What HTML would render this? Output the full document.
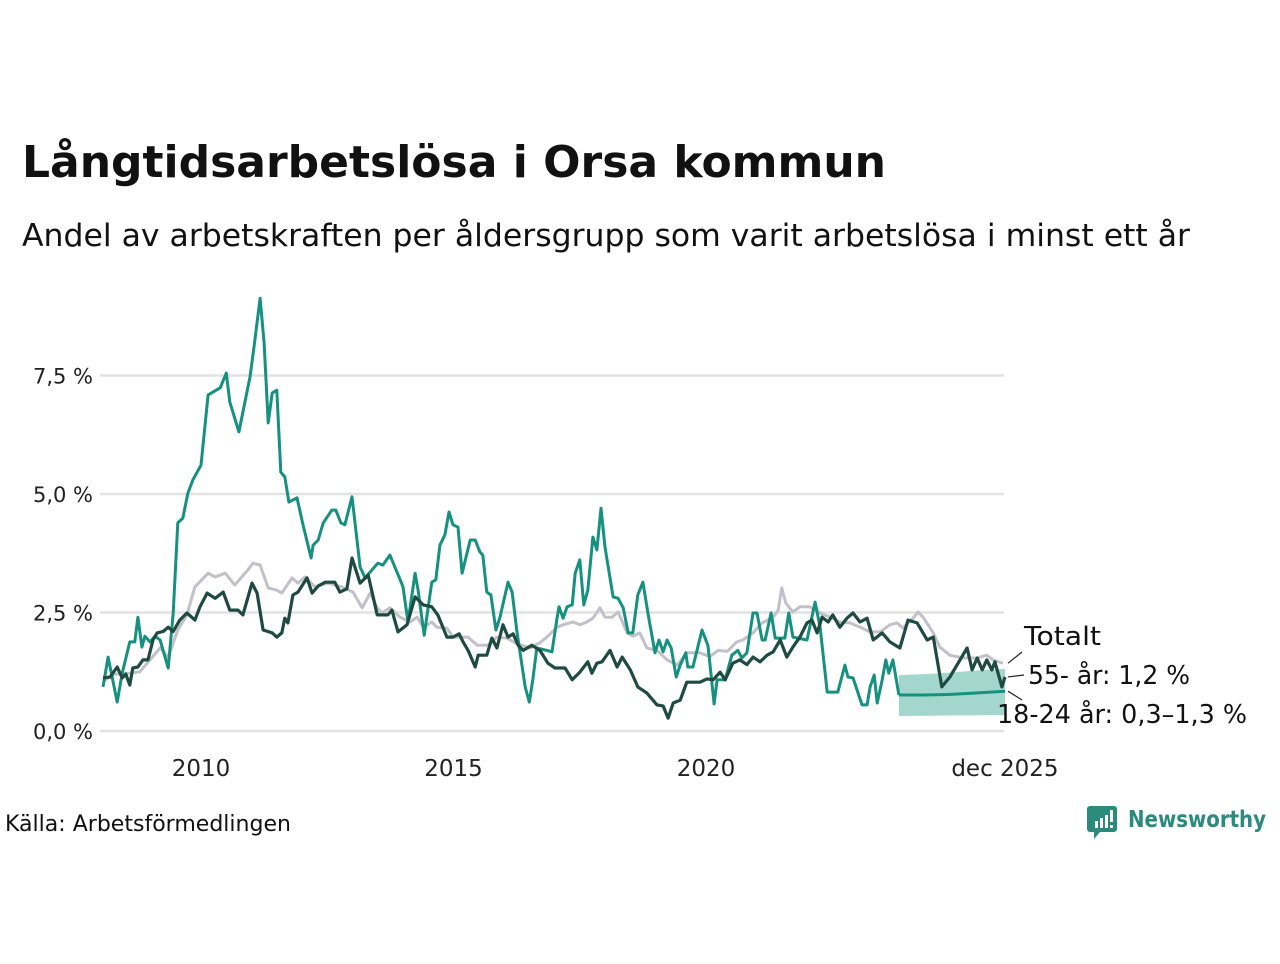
<!DOCTYPE html>
<html><head><meta charset="utf-8"><style>
body{margin:0;background:#fff;width:1280px;height:960px;overflow:hidden;font-family:"DejaVu Sans","Liberation Sans",sans-serif;}
svg text{font-family:"DejaVu Sans","Liberation Sans",sans-serif;}
</style></head><body>
<svg id="chart" width="1280" height="960" xmlns="http://www.w3.org/2000/svg">
<text x="22" y="177" font-size="44" font-weight="bold" fill="#111" textLength="864" lengthAdjust="spacingAndGlyphs">Långtidsarbetslösa i Orsa kommun</text>
<text x="22" y="246" font-size="31" fill="#111" textLength="1168" lengthAdjust="spacingAndGlyphs">Andel av arbetskraften per åldersgrupp som varit arbetslösa i minst ett år</text>
<g id="grid"></g>
<g id="marks"></g>
<g id="labels"></g>
<text x="5" y="831" font-size="22" fill="#111" textLength="286" lengthAdjust="spacingAndGlyphs">Källa: Arbetsförmedlingen</text>
<g>
<path d="M1090 806 h24 a3 3 0 0 1 3 3 v20 a3 3 0 0 1 -3 3 h-14 l-6 7 v-7 h-4 a3 3 0 0 1 -3 -3 v-20 a3 3 0 0 1 3 -3z" fill="#2a8a7c"/>
<rect x="1095" y="821" width="3" height="7" fill="#fff"/><rect x="1100" y="818" width="3" height="10" fill="#fff"/><rect x="1105" y="815" width="3" height="13" fill="#fff"/><rect x="1110" y="810" width="3" height="12" fill="#fff"/><rect x="1110" y="825" width="3" height="3" fill="#fff"/>
<text x="1128" y="827" font-size="23" fill="#2a8a7c" font-weight="bold" textLength="138" lengthAdjust="spacingAndGlyphs">Newsworthy</text>
</g>
</svg>
<script>
const yTicks=[0,2.5,5,7.5];
const yTickLabels=["0,0 %","2,5 %","5,0 %","7,5 %"];
const xTicks=[2010,2015,2020,2025.92];
const xTickLabels=["2010","2015","2020","dec 2025"];
const totalDates=[2008.06,2008.3,2008.59,2008.79,2008.99,2009.19,2009.35,2009.54,2009.72,2009.88,2010.14,2010.28,2010.48,2010.67,2010.93,2011.03,2011.17,2011.33,2011.5,2011.6,2011.8,2011.92,2012.06,2012.26,2012.51,2012.79,2013.01,2013.19,2013.35,2013.49,2013.58,2013.74,2013.94,2014.14,2014.28,2014.4,2014.57,2014.67,2014.87,2014.99,2015.29,2015.47,2015.68,2015.86,2016.06,2016.22,2016.51,2016.71,2016.85,2017.05,2017.17,2017.37,2017.5,2017.64,2017.76,2017.9,2018.0,2018.14,2018.26,2018.44,2018.55,2018.69,2018.83,2019.03,2019.23,2019.43,2019.62,2019.88,2020.08,2020.24,2020.42,2020.61,2020.73,2020.93,2021.11,2021.33,2021.43,2021.5,2021.58,2021.72,2021.86,2022.06,2022.26,2022.46,2022.65,2022.85,2023.05,2023.25,2023.45,2023.64,2023.78,2023.9,2024.1,2024.2,2024.3,2024.5,2024.63,2024.83,2025.09,2025.37,2025.56,2025.68,2025.88];
const totalValues=[1.05,1.2,1.22,1.25,1.5,1.75,1.56,2.13,2.45,3.04,3.33,3.25,3.33,3.08,3.4,3.54,3.5,3.02,2.97,2.91,3.23,3.12,3.25,3.04,3.12,3.04,2.93,2.6,2.91,2.6,2.49,2.6,2.4,2.3,2.4,2.19,2.3,2.19,2.17,1.98,1.98,1.81,1.81,1.98,1.96,1.86,1.75,1.86,1.98,2.19,2.24,2.3,2.24,2.3,2.38,2.6,2.4,2.4,2.51,2.07,2.0,2.07,1.75,1.7,1.5,1.39,1.65,1.65,1.57,1.7,1.68,1.88,1.92,2.07,2.28,2.4,2.55,3.02,2.7,2.51,2.62,2.62,2.49,2.4,2.3,2.28,2.19,2.09,2.09,2.24,2.28,2.17,2.38,2.51,2.4,2.07,1.77,1.6,1.54,1.54,1.6,1.5,1.43];
const olderDates=[2008.06,2008.2,2008.34,2008.44,2008.51,2008.59,2008.65,2008.75,2008.85,2008.95,2009.05,2009.13,2009.25,2009.35,2009.45,2009.58,2009.72,2009.88,2009.98,2010.12,2010.28,2010.44,2010.57,2010.73,2010.83,2011.01,2011.11,2011.23,2011.41,2011.5,2011.6,2011.66,2011.72,2011.82,2011.92,2012.1,2012.2,2012.32,2012.46,2012.65,2012.75,2012.89,2012.99,2013.15,2013.31,2013.49,2013.7,2013.78,2013.9,2014.08,2014.24,2014.4,2014.57,2014.69,2014.87,2014.99,2015.11,2015.19,2015.29,2015.43,2015.49,2015.66,2015.76,2015.86,2015.98,2016.08,2016.18,2016.28,2016.38,2016.55,2016.71,2016.87,2017.01,2017.21,2017.35,2017.5,2017.66,2017.74,2017.84,2017.94,2018.1,2018.24,2018.34,2018.5,2018.65,2018.83,2019.03,2019.15,2019.25,2019.35,2019.49,2019.62,2019.88,2020.02,2020.14,2020.28,2020.38,2020.53,2020.67,2020.81,2020.93,2021.07,2021.21,2021.33,2021.47,2021.6,2021.72,2021.86,2022.0,2022.1,2022.2,2022.3,2022.42,2022.51,2022.65,2022.79,2022.91,2023.05,2023.19,2023.31,2023.49,2023.64,2023.84,2024.0,2024.18,2024.38,2024.5,2024.67,2024.83,2025.03,2025.17,2025.27,2025.37,2025.47,2025.56,2025.66,2025.72,2025.86,2025.92];
const olderValues=[1.12,1.14,1.35,1.12,1.2,0.97,1.33,1.35,1.5,1.5,1.92,2.07,2.1,2.19,2.1,2.34,2.49,2.34,2.62,2.91,2.8,2.93,2.55,2.55,2.45,3.12,2.91,2.13,2.07,1.98,2.07,2.38,2.28,2.87,2.93,3.23,2.91,3.06,3.14,3.14,2.93,3.0,3.65,3.12,3.29,2.45,2.45,2.55,2.09,2.24,2.83,2.66,2.62,2.45,1.98,1.98,2.05,1.88,1.7,1.35,1.6,1.6,1.96,1.75,2.24,1.98,2.05,1.81,1.7,1.81,1.7,1.43,1.33,1.33,1.08,1.24,1.46,1.22,1.43,1.46,1.7,1.35,1.56,1.29,0.93,0.8,0.55,0.53,0.27,0.59,0.65,1.03,1.03,1.1,1.08,1.24,1.08,1.43,1.5,1.4,1.56,1.46,1.6,1.67,1.92,1.56,1.77,1.98,2.28,2.34,2.07,2.4,2.3,2.45,2.19,2.38,2.49,2.3,2.38,1.92,2.07,1.88,1.75,2.34,2.28,1.92,1.98,0.93,1.14,1.5,1.75,1.29,1.54,1.29,1.5,1.29,1.46,0.93,1.14];
const youthDates=[2008.06,2008.16,2008.34,2008.44,2008.59,2008.69,2008.75,2008.83,2008.89,2008.99,2009.09,2009.19,2009.25,2009.35,2009.45,2009.54,2009.64,2009.74,2009.84,2010.0,2010.14,2010.38,2010.5,2010.57,2010.75,2010.97,2011.05,2011.17,2011.25,2011.33,2011.41,2011.5,2011.58,2011.66,2011.74,2011.9,2012.02,2012.18,2012.22,2012.32,2012.42,2012.59,2012.67,2012.77,2012.85,2012.99,2013.15,2013.25,2013.5,2013.6,2013.74,2013.94,2014.0,2014.1,2014.24,2014.3,2014.42,2014.57,2014.65,2014.73,2014.83,2014.91,2014.99,2015.09,2015.17,2015.33,2015.43,2015.52,2015.58,2015.66,2015.74,2015.84,2015.92,2016.08,2016.16,2016.26,2016.42,2016.5,2016.57,2016.65,2016.85,2016.95,2017.05,2017.09,2017.17,2017.25,2017.35,2017.41,2017.5,2017.58,2017.66,2017.76,2017.84,2017.92,2018.0,2018.16,2018.26,2018.36,2018.46,2018.55,2018.65,2018.75,2018.85,2018.99,2019.07,2019.15,2019.23,2019.31,2019.41,2019.49,2019.6,2019.64,2019.74,2019.92,2020.04,2020.16,2020.22,2020.38,2020.51,2020.63,2020.71,2020.81,2020.93,2021.01,2021.11,2021.17,2021.29,2021.37,2021.56,2021.64,2021.72,2022.0,2022.16,2022.26,2022.4,2022.61,2022.75,2022.81,2022.91,2023.09,2023.19,2023.25,2023.33,2023.39,2023.49,2023.56,2023.62,2023.7,2023.82];
const youthValues=[0.93,1.56,0.61,1.22,1.88,1.88,2.4,1.77,2.0,1.88,2.0,1.92,1.7,1.33,2.49,4.39,4.49,5.02,5.3,5.61,7.09,7.24,7.55,6.94,6.31,7.47,8.1,9.13,8.19,6.5,7.13,7.19,5.46,5.36,4.83,4.92,4.35,3.65,3.92,4.03,4.39,4.66,4.66,4.39,4.35,4.94,3.46,3.23,3.54,3.5,3.71,3.2,3.04,2.3,3.33,2.97,2.02,3.14,3.19,3.92,4.14,4.62,4.35,4.3,3.33,4.03,4.03,3.78,3.71,2.93,2.87,2.13,2.4,3.14,2.93,2.07,0.93,0.61,1.08,1.75,1.7,1.67,2.38,2.62,2.38,2.62,2.66,3.33,3.61,2.66,2.97,4.09,3.82,4.7,3.88,2.83,2.8,2.6,2.07,2.07,2.87,3.14,2.49,1.65,1.92,1.67,1.92,1.75,1.14,1.39,1.65,1.35,1.35,2.13,1.8,0.57,1.08,1.08,1.6,1.7,1.54,1.65,2.49,2.49,1.92,1.92,2.49,1.96,1.96,2.49,1.98,1.92,2.72,2.19,0.82,0.82,1.39,1.14,1.12,0.55,0.55,0.93,1.18,0.59,1.08,1.5,1.22,1.5,0.76];
const fcDates=[2023.82,2024.3,2024.8,2025.3,2025.92];
const fcMid=[0.76,0.76,0.77,0.8,0.84];
const fcLow=[0.32,0.32,0.33,0.33,0.34];
const fcHigh=[1.18,1.2,1.23,1.27,1.31];

const NS='http://www.w3.org/2000/svg';
const X=d=>201+(d-2010)*50.5;
const Y=v=>731-v*47.4;
function mk(tag,attrs,parent){const e=document.createElementNS(NS,tag);for(const k in attrs)e.setAttribute(k,attrs[k]);parent.appendChild(e);return e;}
const grid=document.getElementById('grid'),marks=document.getElementById('marks'),labels=document.getElementById('labels');
yTicks.forEach((t,i)=>{
  const l=mk('line',{x1:100,x2:1004,y1:Y(t),y2:Y(t),stroke:'#e2e2e2','stroke-width':2.5},grid);
  
  
  const tx=mk('text',{x:93,y:Y(t)+8,'text-anchor':'end','font-size':21,fill:'#222'},grid);
  tx.textContent=yTickLabels[i];
  
  
});
xTicks.forEach((t,i)=>{
  const tx=mk('text',{x:X(t),y:776,'text-anchor':'middle','font-size':23,fill:'#222'},grid);
  tx.textContent=xTickLabels[i];
  
  
});
function pts(ds,vs){return ds.map((d,i)=>X(d).toFixed(1)+','+Y(vs[i]).toFixed(1)).join(' ');}
const bandPts=fcDates.map((d,i)=>X(d)+','+Y(fcHigh[i])).concat(fcDates.slice().reverse().map((d,i)=>X(d)+','+Y(fcLow[fcLow.length-1-i])));
const band=mk('polygon',{points:bandPts.join(' '),fill:'#a3d7cd'},marks);


const lt=mk('polyline',{points:pts(totalDates,totalValues),fill:'none',stroke:'#c2c0c8','stroke-width':3,'stroke-linejoin':'round'},marks);


const ly=mk('polyline',{points:pts(youthDates,youthValues),fill:'none',stroke:'#16917f','stroke-width':3,'stroke-linejoin':'round'},marks);


const lf=mk('polyline',{points:pts(fcDates,fcMid),fill:'none',stroke:'#16917f','stroke-width':3},marks);


const lo=mk('polyline',{points:pts(olderDates,olderValues),fill:'none',stroke:'#1e4a40','stroke-width':3.2,'stroke-linejoin':'round'},marks);


const lab=[["Totalt",1024,645,Y(totalValues[totalValues.length-1]),1022,652,'total-label',77],
           ["55- år: 1,2 %",1028,684,Y(olderValues[olderValues.length-1]),1024,675,'older-label',162],
           ["18-24 år: 0,3–1,3 %",997,723,Y(fcMid[fcMid.length-1]),1022,700,'youth-label',250]];
lab.forEach(a=>{
  const ln=mk('line',{x1:1008,y1:a[3],x2:a[4],y2:a[5],stroke:'#222','stroke-width':1.2},labels);
  
  
  const t=mk('text',{x:a[1],y:a[2],'font-size':26,fill:'#111',textLength:a[7],lengthAdjust:'spacingAndGlyphs'},labels);
  t.textContent=a[0];
  
  
});
</script>
</body></html>
